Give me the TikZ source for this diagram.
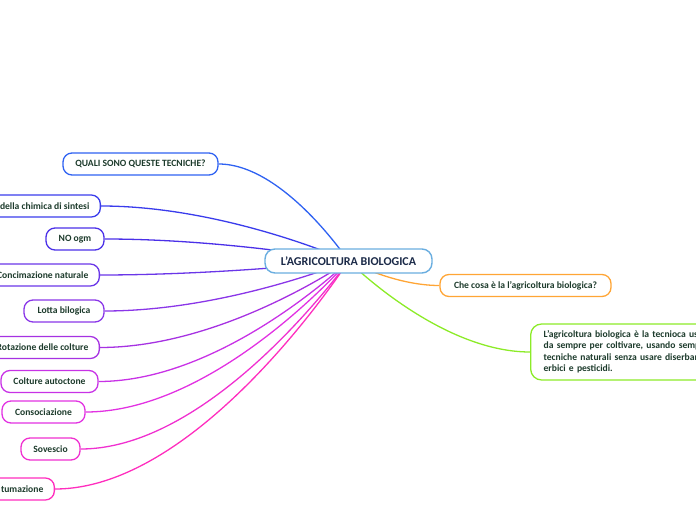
\documentclass[tikz,border=0pt]{standalone}
\usepackage{fontspec}
\setmainfont{Carlito}
\usetikzlibrary{calc,backgrounds}
\definecolor{txt}{HTML}{1D3B2C}
\definecolor{roottxt}{HTML}{1B2A48}
\definecolor{rootbd}{HTML}{6AAEE0}
\definecolor{cA}{HTML}{2F62F2}
\definecolor{cB}{HTML}{3A3CEC}
\definecolor{cC}{HTML}{4B30E8}
\definecolor{cD}{HTML}{6A36E8}
\definecolor{cE}{HTML}{8A36E8}
\definecolor{cF}{HTML}{A632E2}
\definecolor{cG}{HTML}{C832E6}
\definecolor{cH}{HTML}{E232E2}
\definecolor{cI}{HTML}{F030D0}
\definecolor{cJ}{HTML}{FF2EBE}
\definecolor{cO}{HTML}{FFA535}
\definecolor{cV}{HTML}{8CEB28}
\newcommand{\myconn}[3]{%
  \draw[#1] let \p1=(#2), \p2=(#3), \p3=($(\p1)!0.5!(\p2)$) in
    (\p1) .. controls (\x3,\y1) and (\p2) .. (\p2);}
\tikzset{
  topic/.style={draw=#1, line width=1.3bp, rounded corners=9bp, fill=white,
    minimum height=22bp, inner xsep=11bp, inner ysep=0bp,
    font=\fontsize{9.6bp}{11.5bp}\selectfont\bfseries, text=txt},
  conline/.style={draw=#1, line width=1.3bp},
}
\begin{document}
\begin{tikzpicture}[x=1bp,y=-1bp]
\useasboundingbox (0,0) rectangle (696,520);
\node[draw=rootbd, line width=1.4bp, rounded corners=10bp, fill=white,
  minimum width=167bp, minimum height=24bp, inner sep=0bp,
  font=\fontsize{12bp}{14bp}\selectfont\bfseries, text=roottxt]
  (root) at (348.5,261) {L'AGRICOLTURA BIOLOGICA};
\node[topic=cA, minimum width=155bp] (quali) at (140.5,164) {QUALI SONO QUESTE TECNICHE?};
\node[topic=cB, anchor=east] (chim) at (101,206) {\hspace*{30bp}della chimica di sintesi};
\node[topic=cC, minimum width=58bp] (ogm) at (75,239) {NO ogm};
\node[topic=cD, anchor=east] (conc) at (100,275) {\hspace*{30bp}Concimazione naturale};
\node[topic=cE, minimum width=80bp] (lotta) at (64,311) {Lotta bilogica};
\node[topic=cF, anchor=east] (rot) at (100,347.5) {\hspace*{30bp}Rotazione delle colture};
\node[topic=cG, minimum width=97bp] (aut) at (49.5,381.5) {Colture autoctone};
\node[topic=cH, minimum width=83bp] (cons) at (43.5,412) {Consociazione};
\node[topic=cI, minimum width=59bp] (sov) at (50.5,449) {Sovescio};
\node[topic=cJ, anchor=east] (tum) at (55,489) {\hspace*{30bp}tumazione};
\node[topic=cO, minimum width=171bp] (che) at (525.5,285.5) {Che cosa è la l'agricoltura biologica?};
\node[topic=cV, anchor=west, text width=190bp, align=left, inner xsep=13bp,
  minimum height=56bp, rounded corners=11bp] (def) at (530,352)
  {L'agricoltura biologica è la tecnioca usata\\da sempre per coltivare, usando sempre\\tecniche naturali senza usare diserbanti,\\erbici e pesticidi.};
\begin{scope}[on background layer]
\myconn{conline=cA}{quali.east}{root.center}
\myconn{conline=cB}{chim.east}{root.center}
\myconn{conline=cC}{ogm.east}{root.center}
\myconn{conline=cD}{conc.east}{root.center}
\myconn{conline=cE}{lotta.east}{root.center}
\myconn{conline=cF}{rot.east}{root.center}
\myconn{conline=cG}{aut.east}{root.center}
\myconn{conline=cH}{cons.east}{root.center}
\myconn{conline=cI}{sov.east}{root.center}
\myconn{conline=cJ}{tum.east}{root.center}
\myconn{conline=cO}{che.west}{root.center}
\myconn{conline=cV}{def.west}{root.center}
\end{scope}
\end{tikzpicture}
\end{document}
